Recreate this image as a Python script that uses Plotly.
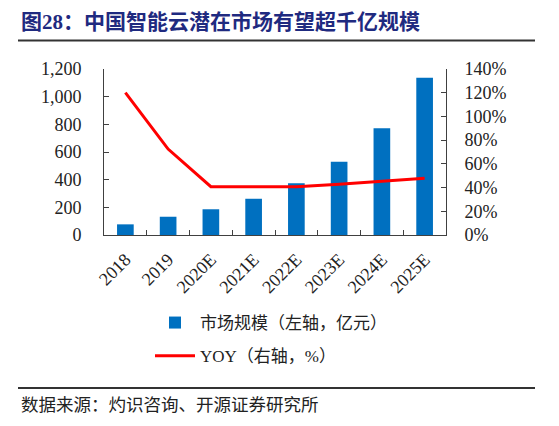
import plotly.graph_objects as go

categories = ["2018", "2019", "2020E", "2021E", "2022E", "2023E", "2024E", "2025E"]
market_size = [77, 132, 186, 262, 374, 530, 771, 1137]          # 亿元, left axis
yoy_pct = [120.0, 72.5, 40.7, 40.6, 40.7, 42.7, 45.5, 47.8]     # %, right axis
left_ticks = [0, 200, 400, 600, 800, 1000, 1200]
right_ticks = [0, 20, 40, 60, 80, 100, 120, 140]

title_text = "图28：中国智能云潜在市场有望超千亿规模"
source_text = "数据来源：灼识咨询、开源证券研究所"

W, H = 559, 426
L, R, T, B = 104, 446, 69, 235
pw, ph = R - L, B - T

def px(x):
    return (x - L) / pw

def py(y):
    return (B - y) / ph

serif = "Liberation Serif, Noto Sans CJK SC"
txt = "#222222"
axc = "#404040"

fig = go.Figure()
fig.add_trace(go.Bar(
    x=categories, y=market_size, name="市场规模（左轴，亿元）", legendgroup="a",
    marker=dict(color="#0070C0", line=dict(width=0)), width=0.39, yaxis="y",
))
fig.add_trace(go.Scatter(
    x=categories, y=yoy_pct, name="YOY（右轴，%）", mode="lines", legendgroup="b",
    line=dict(color="#FF0000", width=3), yaxis="y2",
))

fig.update_layout(
    template="none",
    width=W, height=H,
    margin=dict(l=L, r=W - R, t=T, b=H - B, pad=0, autoexpand=False),
    paper_bgcolor="white", plot_bgcolor="white",
    font=dict(family=serif, size=18, color=txt),
    showlegend=True,
    legend=dict(
        x=px(150), y=py(305), xanchor="left", yanchor="top",
        font=dict(family=serif, size=17, color=txt),
        bgcolor="rgba(0,0,0,0)", itemwidth=40, tracegroupgap=8,
    ),
    xaxis=dict(
        type="category", tickangle=-45, showline=True, linecolor=axc, linewidth=1,
        ticks="inside", tickson="boundaries", ticklen=5, tickcolor=axc,
        showgrid=False, automargin=False, ticklabelstandoff=6,
        tickfont=dict(family=serif, size=18, color=txt),
    ),
    yaxis=dict(
        range=[0, 1200], tickmode="array", tickvals=left_ticks,
        ticktext=[f"{v:,}" for v in left_ticks], showline=True,
        linecolor=axc, linewidth=1, ticks="inside", ticklen=5, tickcolor=axc,
        showgrid=False, zeroline=False, automargin=False, ticklabelstandoff=18,
        tickfont=dict(family=serif, size=18, color=txt),
    ),
    yaxis2=dict(
        range=[0, 140], tickmode="array", tickvals=right_ticks,
        ticktext=[f"{v}%" for v in right_ticks], overlaying="y", side="right",
        showline=True, linecolor=axc, linewidth=1, ticks="inside", ticklen=5,
        tickcolor=axc, showgrid=False, zeroline=False, automargin=False,
        ticklabelstandoff=14, tickfont=dict(family=serif, size=18, color=txt),
    ),
)

fig.add_annotation(
    text="<b>" + title_text + "</b>", xref="paper", yref="paper",
    x=px(19), y=py(22), xanchor="left", yanchor="middle", showarrow=False,
    font=dict(family=serif, size=21, color="#1F2A80"),
)
fig.add_annotation(
    text=source_text, xref="paper", yref="paper",
    x=px(19), y=py(405), xanchor="left", yanchor="middle", showarrow=False,
    font=dict(family=serif, size=17.5, color=txt),
)
fig.add_shape(type="line", xref="paper", yref="paper", x0=px(18), x1=px(535),
              y0=py(40.5), y1=py(40.5), line=dict(color="#333333", width=2))
fig.add_shape(type="line", xref="paper", yref="paper", x0=px(18), x1=px(535),
              y0=py(388), y1=py(388), line=dict(color="#333333", width=2))

fig.write_html("out.html", post_script="document.body.style.margin='0';",
               config={"displayModeBar": False})
